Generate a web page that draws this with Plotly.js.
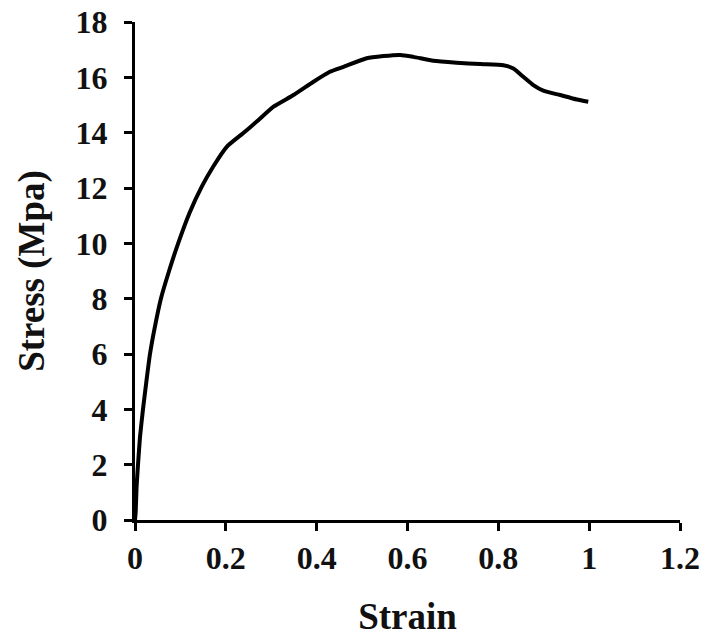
<!DOCTYPE html>
<html>
<head>
<meta charset="utf-8">
<script src="https://cdn.plot.ly/plotly-3.0.1.min.js"></script>
<style>html,body{margin:0;padding:0;background:#fff;}#chart{width:704px;height:641px;}</style>
</head>
<body>
<div id="chart"></div>
<script>
const strain = [0, 0.0015, 0.0035, 0.0066, 0.011, 0.0176, 0.025, 0.033, 0.044, 0.057, 0.075, 0.095, 0.12, 0.147, 0.172, 0.202, 0.238, 0.268, 0.305, 0.349, 0.393, 0.429, 0.459, 0.510, 0.547, 0.584, 0.613, 0.657, 0.708, 0.760, 0.811, 0.833, 0.855, 0.877, 0.899, 0.936, 0.973, 0.998];
const stress = [0, 0.3, 1.2, 2.0, 3.0, 4.0, 5.0, 6.0, 7.0, 8.0, 9.0, 10.0, 11.1, 12.05, 12.77, 13.49, 13.98, 14.40, 14.94, 15.36, 15.84, 16.20, 16.38, 16.69, 16.77, 16.81, 16.74, 16.60, 16.53, 16.48, 16.44, 16.32, 16.02, 15.72, 15.52, 15.36, 15.20, 15.12];
const xTicks = [0, 0.2, 0.4, 0.6, 0.8, 1, 1.2];
const yTicks = [0, 2, 4, 6, 8, 10, 12, 14, 16, 18];
const xTitle = 'Strain';
const yTitle = 'Stress (Mpa)';

const fam = '"Liberation Serif", "Times New Roman", serif';
const tickFont = {family: fam, size: 32, color: '#111', weight: 'bold'};
const titleFont = {family: fam, size: 37, color: '#111', weight: 'bold'};

const trace = {
  x: strain, y: stress, type: 'scatter', mode: 'lines',
  line: {color: '#000', width: 4, shape: 'spline', smoothing: 0.5},
  hoverinfo: 'skip', showlegend: false
};

const axisCommon = {
  showgrid: false, zeroline: false, showline: true, linecolor: '#000', linewidth: 3,
  ticks: 'outside', ticklen: 8, tickwidth: 3, tickcolor: '#000',
  tickfont: tickFont, automargin: false, fixedrange: true
};

const layout = {
  width: 704, height: 641,
  margin: {l: 135, r: 24, t: 22, b: 121},
  paper_bgcolor: '#fff', plot_bgcolor: '#fff',
  xaxis: Object.assign({}, axisCommon, {
    range: [0, 1.2], tickmode: 'array', tickvals: xTicks, ticktext: xTicks.map(String),
    ticklabelstandoff: 0,
    title: {text: xTitle, font: titleFont, standoff: 28}
  }),
  yaxis: Object.assign({}, axisCommon, {
    range: [0, 18], tickmode: 'array', tickvals: yTicks, ticktext: yTicks.map(String),
    ticklabelstandoff: 10,
    title: {text: yTitle, font: titleFont, standoff: 20}
  })
};

Plotly.newPlot('chart', [trace], layout, {displayModeBar: false, staticPlot: true});
</script>
</body>
</html>
